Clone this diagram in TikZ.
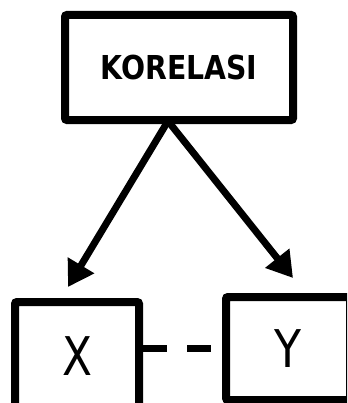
\documentclass[tikz,border=0pt]{standalone}
\usepackage{fontspec}
\usepackage{graphicx}
\usetikzlibrary{arrows.meta}
\newfontfamily\boxfont{DejaVu Sans}

\tikzset{
  box/.style={draw,line width=6pt,rounded corners=1.5pt,inner sep=0pt},
  arr/.style={line width=5.25pt,-{Triangle[length=19pt,width=22pt]}},
  dashline/.style={line width=5.25pt,dash pattern=on 18pt off 15pt}
}

\begin{document}
\begin{tikzpicture}[x=0.75pt,y=-0.75pt]
    \useasboundingbox (0,0) rectangle (347,403);
    \clip (0,0) rectangle (347,403);
    \node[box,minimum width=171pt,minimum height=78.75pt] (kor) at (179,67.5)
        {\scalebox{0.86}[1]{\boxfont\fontsize{24.7pt}{26pt}\selectfont\bfseries KORELASI}};
    \node[box,minimum width=93pt,minimum height=81pt] (x) at (77,356)
        {\scalebox{0.82}[1]{\boxfont\fontsize{40pt}{42pt}\selectfont X}};
    \node[box,minimum width=93pt,minimum height=77.25pt] (y) at (288,348.5)
        {\scalebox{0.85}[1]{\boxfont\fontsize{39pt}{41pt}\selectfont Y}};
    \coordinate (fork) at (168,121);
    \coordinate (xtip) at (68,287);
    \coordinate (ytip) at (293,278);
    \draw[arr] (fork) -- (xtip);
    \draw[arr] (fork) -- (ytip);
    \draw[dashline] (x.east |- y.west) -- (y.west);
\end{tikzpicture}
\end{document}
